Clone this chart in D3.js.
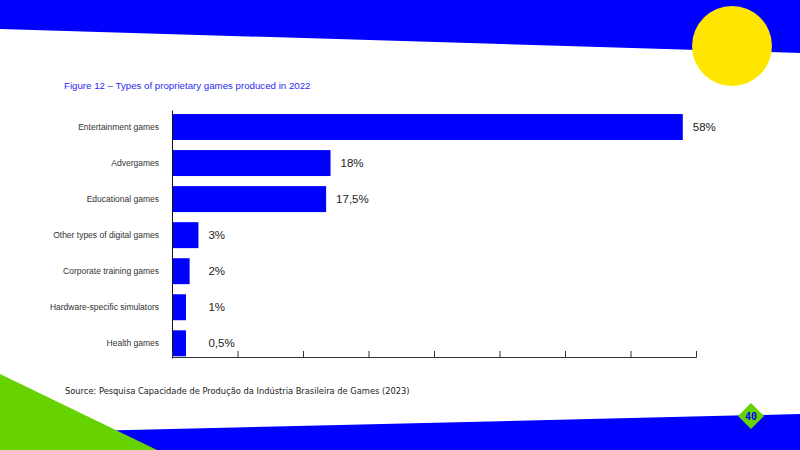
<!DOCTYPE html>
<html lang="en">
  <head>
    <meta charset="utf-8">
    <title>Types of proprietary games produced in 2022</title>
    <script src="https://d3js.org/d3.v7.min.js"></script>
    <style>
      html, body { margin: 0; padding: 0; background: #fff; }
      svg { display: block; }
    </style>
  </head>
  <body>
    <script>
      const categories = ["Entertainment games", "Advergames", "Educational games",
                          "Other types of digital games", "Corporate training games",
                          "Hardware-specific simulators", "Health games"];
      const shares = [58, 18, 17.5, 3, 2, 1, 0.5];
      const xMax = 59.5;
      const tickCount = 8;

      const width = 800;
      const height = 450;
      const blue = "#0000ff";
      const green = "#66d200";

      const svg = d3.select("body").append("svg")
                    .attr("width", width)
                    .attr("height", height);

      // page decoration
      svg.append("polygon")
         .attr("points", "0,0 800,0 800,53 0,29")
         .attr("fill", blue);
      svg.append("circle")
         .attr("cx", 732).attr("cy", 46).attr("r", 40)
         .attr("fill", "#ffe600");
      svg.append("polygon")
         .attr("points", "0,433 800,414 800,450 0,450")
         .attr("fill", blue);
      svg.append("polygon")
         .attr("points", "0,374 157,450 0,450")
         .attr("fill", green);
      svg.append("polygon")
         .attr("points", "751,403 764,416 751,429 738,416")
         .attr("fill", green);
      svg.append("text")
         .attr("x", 751).attr("y", 419.5)
         .attr("text-anchor", "middle")
         .style("font", "bold 10px 'DejaVu Sans Mono', monospace")
         .style("fill", blue)
         .text("40");

      svg.append("text")
         .attr("x", 64).attr("y", 89)
         .style("font", "9.7px 'Liberation Sans', Arial, sans-serif")
         .style("fill", "#2b2bf0")
         .text("Figure 12 \u2013 Types of proprietary games produced in 2022");

      svg.append("text")
         .attr("x", 65).attr("y", 394)
         .style("font", "8.3px 'DejaVu Sans', sans-serif")
         .style("fill", "#222")
         .text("Source: Pesquisa Capacidade de Produção da Indústria Brasileira de Games (2023)");

      // chart
      const x = d3.scaleLinear().domain([0, xMax]).range([172, 696]);
      const y = d3.scaleBand().domain(categories).range([110, 358])
                  .paddingInner(0.28).paddingOuter(0.08).align(0.7);
      const minBar = 14;

      const rows = categories.map((c, i) => ({ name: c, value: shares[i] }));

      svg.selectAll("rect.bar").data(rows).enter().append("rect")
         .attr("class", "bar")
         .attr("x", x(0))
         .attr("y", d => y(d.name))
         .attr("width", d => Math.max(x(d.value) - x(0), minBar))
         .attr("height", y.bandwidth())
         .attr("fill", blue);

      svg.selectAll("text.val").data(rows).enter().append("text")
         .attr("class", "val")
         .attr("x", d => Math.max(x(d.value), x(3)) + 10)
         .attr("y", d => y(d.name) + y.bandwidth() / 2)
         .attr("dy", "0.36em")
         .style("font", "11.5px 'Liberation Sans', Arial, sans-serif")
         .style("fill", "#222")
         .text(d => String(d.value).replace(".", ",") + "%");

      const yAxis = svg.append("g")
         .attr("transform", `translate(${x(0)},0)`)
         .call(d3.axisLeft(y).tickSize(0).tickPadding(13));
      yAxis.select(".domain").attr("stroke", "#111");
      yAxis.selectAll("text")
           .style("font", "8.5px 'Liberation Sans', Arial, sans-serif")
           .style("fill", "#333");

      const tickVals = d3.range(tickCount + 1).map(i => i * xMax / tickCount);
      const xAxis = svg.append("g")
         .attr("transform", "translate(0,357)")
         .call(d3.axisBottom(x).tickValues(tickVals).tickSize(-6).tickFormat(""));
      xAxis.selectAll("path, line").attr("stroke", "#333");
    </script>
  </body>
</html>
